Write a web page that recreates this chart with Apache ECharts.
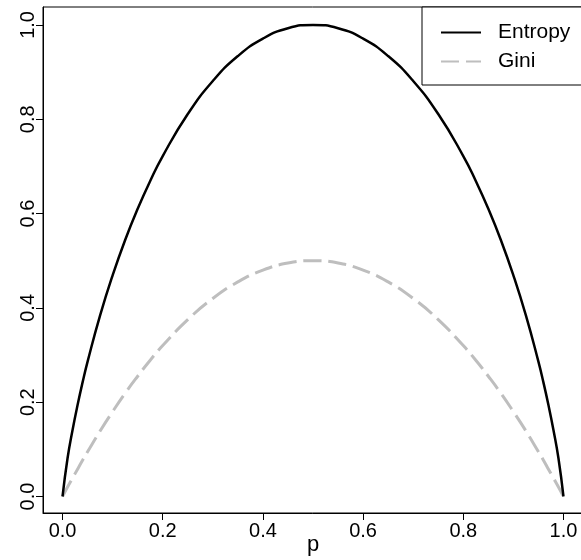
<!DOCTYPE html>
<html>
<head>
<meta charset="utf-8">
<title>Entropy vs Gini</title>
<script src="https://cdn.jsdelivr.net/npm/echarts@6/dist/echarts.min.js"></script>
<style>
  html, body { margin: 0; padding: 0; background: #fff; }
  #chart { width: 581px; height: 560px; }
</style>
</head>
<body>
<div id="chart"></div>
<script>
const pValues = [0, 0.01, 0.02, 0.03, 0.04, 0.05, 0.075, 0.1, 0.125, 0.15, 0.175, 0.2, 0.25, 0.3, 0.35, 0.4, 0.45, 0.5,
  0.55, 0.6, 0.65, 0.7, 0.75, 0.8, 0.825, 0.85, 0.875, 0.9, 0.925, 0.95, 0.96, 0.97, 0.98, 0.99, 1];
const entropyValues = [0, 0.081, 0.141, 0.194, 0.242, 0.286, 0.384, 0.469, 0.544, 0.61, 0.669, 0.722, 0.811, 0.881, 0.934, 0.971, 0.993, 1.0,
  0.993, 0.971, 0.934, 0.881, 0.811, 0.722, 0.669, 0.61, 0.544, 0.469, 0.384, 0.286, 0.242, 0.194, 0.141, 0.081, 0];
const giniValues = [0, 0.02, 0.039, 0.058, 0.077, 0.095, 0.139, 0.18, 0.219, 0.255, 0.289, 0.32, 0.375, 0.42, 0.455, 0.48, 0.495, 0.5,
  0.495, 0.48, 0.455, 0.42, 0.375, 0.32, 0.289, 0.255, 0.219, 0.18, 0.139, 0.095, 0.077, 0.058, 0.039, 0.02, 0];
const tickValues = [0, 0.2, 0.4, 0.6, 0.8, 1.0];
const seriesNames = ["Entropy", "Gini"];

const font = "'Liberation Sans', Arial, Helvetica, sans-serif";

function pairs(ys) {
  return pValues.map((p, i) => [p, ys[i]]);
}

const chart = echarts.init(document.getElementById("chart"), null, { renderer: "canvas" });

const axisCommon = {
  type: "value",
  splitLine: { show: false },
  axisLine: { show: true, onZero: false, lineStyle: { color: "#000", width: 1 } },
  axisTick: { show: true, inside: false, length: 7, customValues: tickValues, lineStyle: { color: "#000" } },
  axisLabel: {
    customValues: tickValues,
    color: "#000",
    fontFamily: font,
    fontSize: 20,
    formatter: (v) => v.toFixed(1),
  },
};

const option = {
  animation: false,
  backgroundColor: "#fff",
  grid: {
    left: 43,
    right: -2,
    top: 7,
    bottom: 47,
    show: true,
    borderColor: "#000",
    borderWidth: 1,
    containLabel: false,
    outerBoundsMode: "none",
  },
  legend: {
    orient: "vertical",
    left: 422,
    top: 7,
    padding: [15, 30, 13, 18],
    itemWidth: 40,
    itemHeight: 14,
    itemGap: 8,
    // line only, no symbol in the key
    itemStyle: { color: "rgba(0,0,0,0)", borderColor: "rgba(0,0,0,0)", borderWidth: 0 },
    borderColor: "#000",
    borderWidth: 1,
    backgroundColor: "#fff",
    textStyle: { color: "#000", fontFamily: font, fontSize: 21, padding: [0, 0, 0, 12] },
    data: seriesNames,
  },
  xAxis: {
    ...axisCommon,
    min: -0.039,
    max: 1.039,
    axisLabel: { ...axisCommon.axisLabel, margin: 8 },
    name: "p",
    nameLocation: "middle",
    nameGap: 21,
    nameMoveOverlap: false,
    nameTextStyle: { color: "#000", fontFamily: font, fontSize: 22 },
  },
  yAxis: {
    ...axisCommon,
    min: -0.035,
    max: 1.038,
    axisLabel: { ...axisCommon.axisLabel, rotate: 90, margin: 5 },
  },
  series: [
    {
      name: seriesNames[0],
      type: "line",
      data: pairs(entropyValues),
      smooth: 0.5,
      showSymbol: false,
      symbol: "none",
      lineStyle: { color: "#000", width: 2.5 },
      itemStyle: { color: "#000" },
      z: 3,
    },
    {
      name: seriesNames[1],
      type: "line",
      data: pairs(giniValues),
      smooth: 0.5,
      showSymbol: false,
      symbol: "none",
      lineStyle: { color: "#bebebe", width: 3, type: [18, 7] },
      itemStyle: { color: "#bebebe" },
      z: 2,
    },
  ],
};

chart.setOption(option);
</script>
</body>
</html>
